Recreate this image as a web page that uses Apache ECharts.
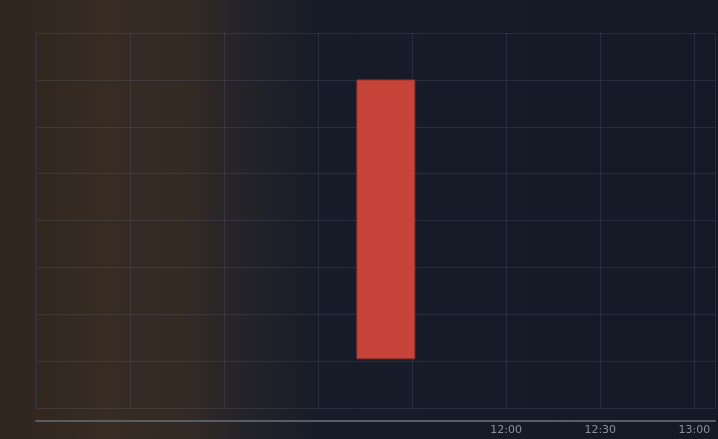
<!DOCTYPE html>
<html>
<head>
<meta charset="utf-8">
<script src="https://cdn.jsdelivr.net/npm/echarts@6/dist/echarts.min.js"></script>
<style>html,body{margin:0;padding:0;background:#151a26;}#c{width:718px;height:439px;}</style>
</head>
<body>
<div id="c"></div>
<script>
// x positions are slot indices along the time axis
var tickLabels = ['', '', '', '', '', '12:00', '12:30', '13:00'];
var candleX = [3.72];
var candleLow = [1.05];
var candleHigh = [7.0];

var chart = echarts.init(document.getElementById('c'));
var candleData = candleX.map(function (x, i) { return [x, candleLow[i], candleHigh[i]]; });

chart.setOption({
  animation: false,
  backgroundColor: {
    type: 'linear', x: 0, y: 0, x2: 1, y2: 0,
    colorStops: [
      { offset: 0, color: '#30261e' },
      { offset: 0.15, color: '#372b22' },
      { offset: 0.26, color: '#332a25' },
      { offset: 0.34, color: '#242329' },
      { offset: 0.44, color: '#181c28' },
      { offset: 1, color: '#141925' }
    ]
  },
  grid: { left: 36, right: 3, top: 33, bottom: 31 },
  xAxis: {
    type: 'value', min: 0, max: 7.22, interval: 1, offset: 13,
    axisLine: { show: true, onZero: false, lineStyle: { color: '#575c66', width: 2 } },
    axisTick: { show: false },
    axisLabel: {
      color: '#8a8f99', fontSize: 11, fontFamily: 'DejaVu Sans', margin: 4,
      showMaxLabel: false,
      formatter: function (v) { return Number.isInteger(v) ? (tickLabels[v] || '') : ''; }
    },
    splitLine: { show: true, lineStyle: { color: 'rgba(125,140,170,0.17)', width: 1 } }
  },
  yAxis: {
    type: 'value', min: 0, max: 8, interval: 1, position: 'right',
    axisLine: { show: true, lineStyle: { color: '#2c3240', width: 2 } },
    axisTick: { show: false },
    axisLabel: { show: false },
    splitLine: { show: true, lineStyle: { color: 'rgba(125,140,170,0.17)', width: 1 } }
  },
  series: [{
    type: 'custom',
    data: candleData,
    encode: { x: 0, y: [1, 2] },
    renderItem: function (params, api) {
      var x = api.value(0);
      var lo = api.coord([x, api.value(1)]);
      var hi = api.coord([x, api.value(2)]);
      var w = 58;
      return {
        type: 'rect',
        shape: { x: lo[0] - w / 2, y: hi[1], width: w, height: lo[1] - hi[1] },
        style: { fill: '#c7443b', stroke: '#8e2f2a', lineWidth: 1 }
      };
    }
  }]
});
</script>
</body>
</html>
